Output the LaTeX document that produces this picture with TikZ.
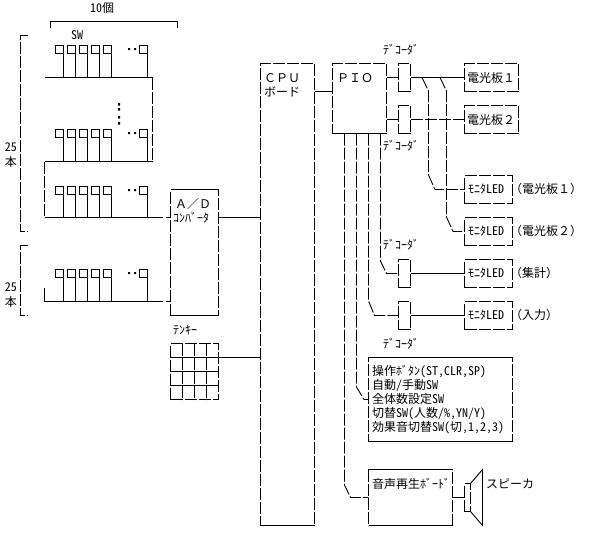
\documentclass[tikz,border=0pt]{standalone}
\usepackage{fontspec}
\setmainfont{Noto Sans CJK JP}
\newfontfamily\hwfont[RawFeature=+hwid]{Noto Sans CJK JP}
\tikzset{
  txt/.style={inner sep=0pt, font=\fontsize{12}{12}\selectfont},
  small/.style={inner sep=0pt, font=\hwfont\fontsize{12}{12}\selectfont},
  swbox/.style={draw, line width=0.9pt, minimum width=8pt, minimum height=8pt, inner sep=0pt, outer sep=0pt, fill=white},
  dashbox/.style={draw, line width=0.9pt, dash pattern=on 12pt off 2pt, inner sep=0pt, outer sep=0pt},
  lbox/.style={dashbox, minimum width=48pt, minimum height=28pt},
  lline/.style={line width=0.9pt},
  dline/.style={line width=0.9pt, dash pattern=on 12pt off 2pt}
}
\begin{document}
\begin{tikzpicture}[x=1pt, y=-1pt]
\useasboundingbox (0,0) rectangle (596,544);
% brackets
\draw[lline] (50.5,28) -- (50.5,21.5) -- (177,21.5) -- (177,28);
\node[small] (ten) at (102,8) {10個};
\draw[dline] (28,35.5) -- (20.5,35.5) -- (20.5,231.5) -- (28,231.5);
\draw[dline] (28,245.5) -- (20.5,245.5) -- (20.5,315.5) -- (28,315.5);
\node[small] (n25a) at (11,147) {25};
\node[small] (hon1) at (11,162) {本};
\node[small] (n25b) at (11,287) {25};
\node[small] (hon2) at (11,302) {本};
\node[small] (swname) at (77,35) {SW};
% switches
\foreach \r/\ytop/\ybus in {a/49/77.5, b/133/161.5, c/190/217.5, d/273/301.5} {
  \coordinate (bus\r) at (44.5,\ybus);
  \foreach \i/\x in {1/59,2/71,3/83,4/95,5/107,6/143} {
    \node[swbox] (sw\r\i) at (\x,\ytop) {};
    \draw[lline] (sw\r\i.south east) -- (sw\r\i.south east |- bus\r);
  }
  \fill (128,\ytop-0.8) rectangle +(2,2) (134,\ytop-0.8) rectangle +(2,2);
}
\fill (118,103) rectangle +(2,2.5) (118,108) rectangle +(2,2.5) (118,116) rectangle +(2,2.5) (118,122) rectangle +(2,2.5);
% A/D, tenkey, CPU
\node[dashbox, minimum width=48pt, minimum height=126pt] (ad) at (194.5,252.5) {};
\node[txt] (adtxt) at (193,204) {Ａ／Ｄ};
\node[small] (adtxt2) at (191,218) {ｺﾝﾊﾞｰﾀ};
\node[small] (tenkey) at (185,330) {ﾃﾝｷｰ};
\node[dashbox, minimum width=54pt, minimum height=462pt] (cpu) at (287.5,294.5) {};
\node[txt] (cputxt) at (282,78) {ＣＰＵ};
\node[txt] (cputxt2) at (282,92) {ボード};
\node[dashbox, minimum width=48pt, minimum height=56pt] (key) at (194.5,371.5) {};
\foreach \x in {182.5,194.5,206.5} \draw[dline] (key.north -| \x,0) -- (key.south -| \x,0);
\foreach \y in {357.5,371.5,385.5} \draw[lline] (key.west |- 0,\y) -- (key.east |- 0,\y);
% buses
\draw[lline] (busa) -- (busa -| 152.5,0);
\draw[dline] (busa -| 152.5,0) -- (busb -| 152.5,0);
\draw[lline] (busb) -- (busb -| 152.5,0);
\draw[dline] (busb) -- (busc);
\draw[lline] (busc) -- (busc -| 163,0) (busc -| 166,0) -- (busc -| ad.west);
\draw[lline] (busd) -- (busd -| 163,0) (busd -| 166,0) -- (busd -| ad.west);
\draw[lline] (44.5,288) -- (busd);
\draw[lline] (ad.east |- busc) -- (cpu.west |- busc);
\draw[lline] (key.east |- 0,357.5) -- (cpu.west |- 0,357.5);
% PIO side
\node[dashbox, minimum width=54pt, minimum height=70pt] (pio) at (359.5,98.5) {};
\node[txt] (piotxt) at (355,78) {ＰＩＯ};
\draw[lline] (cpu.east |- 0,91.5) -- (pio.west |- 0,91.5);
\node[dashbox, minimum width=12pt, minimum height=28pt] (dec1) at (404.5,77.5) {};
\node[dashbox, minimum width=12pt, minimum height=28pt] (dec2) at (404.5,119.5) {};
\node[dashbox, minimum width=12pt, minimum height=28pt] (dec3) at (404.5,273.5) {};
\node[dashbox, minimum width=12pt, minimum height=28pt] (dec4) at (404.5,315.5) {};
\node[small] (dectxt1) at (401,50) {ﾃﾞｺｰﾀﾞ};
\node[small] (dectxt2) at (401,146) {ﾃﾞｺｰﾀﾞ};
\node[small] (dectxt3) at (401,245) {ﾃﾞｺｰﾀﾞ};
\node[small] (dectxt4) at (401,344) {ﾃﾞｺｰﾀﾞ};
\node[dashbox, minimum width=54pt, minimum height=28pt] (pan1) at (491.5,77.5) {};
\node[dashbox, minimum width=54pt, minimum height=28pt] (pan2) at (491.5,119.5) {};
\node[txt] (pantxt1) at (491,78) {電光板１};
\node[txt] (pantxt2) at (491,120) {電光板２};
\node[lbox] (led1) at (488.5,189.5) {};
\node[lbox] (led2) at (488.5,231.5) {};
\node[lbox] (led3) at (488.5,273.5) {};
\node[lbox] (led4) at (488.5,315.5) {};
\foreach \n in {1,2,3,4} \node[small] (ledtxt\n) at ([xshift=-2.5pt]led\n) {ﾓﾆﾀLED};
\node[txt, anchor=west] (ledlab1) at (510,189) {（電光板１）};
\node[txt, anchor=west] (ledlab2) at (510,231) {（電光板２）};
\node[txt, anchor=west] (ledlab3) at (510,273) {（集計）};
\node[txt, anchor=west] (ledlab4) at (510,315) {（入力）};
\draw[lline] (pio.east |- dec1.west) -- (dec1.west);
\draw[dline] (pio.east |- dec2.west) -- (dec2.west);
\draw[lline] (dec1.east) -- (pan1.west);
\draw[dline] (dec2.east) -- (pan2.west);
\draw[lline] (dec3.east) -- (led3.west);
\draw[lline] (dec4.east) -- (led4.west);
% branches
\draw[dline] (422,77.5) -- (428.5,91) -- (428.5,175) -- (435,189.5) -- (led1.west);
\draw[dline] (440,77.5) -- (446.5,91) -- (446.5,217) -- (453,231.5) -- (led2.west);
\draw[dline] (pio.south -| 380.5,0) -- (380.5,261) -- (386.5,273.5) -- (dec3.west);
\draw[dline] (pio.south -| 368.5,0) -- (368.5,301) -- (374.5,315.5) -- (dec4.west);
% lower boxes
\node[dashbox, minimum width=144pt, minimum height=84pt] (ops) at (440.5,399.5) {};
\node[dashbox, minimum width=84pt, minimum height=56pt] (snd) at (410.5,497.5) {};
\foreach \n in {ad,snd,ops,cpu,pio} \draw[lline] (\n.south west) -- (\n.south east);
\foreach \n in {ad,snd,ops} \draw[lline] (\n.north west) -- (\n.north east);
\draw[dline] (pio.south -| 356.5,0) -- (356.5,387) -- (364,399.5) -- (ops.west);
\draw[dline] (pio.south -| 344.5,0) -- (344.5,485) -- (350.5,497.5) -- (snd.west);
\node[small, anchor=west, align=left, font=\hwfont\fontsize{12}{14}\selectfont] (opstxt) at (372,399.5) {操作ﾎﾞﾀﾝ(ST,CLR,SP)\\自動/手動SW\\全体数設定SW\\切替SW(人数/\%,YN/Y)\\効果音切替SW(切,1,2,3)};
\node[small, anchor=west] (sndtxt) at (372,484) {音声再生ﾎﾞｰﾄﾞ};
% speaker
\node[dashbox, minimum width=6pt, minimum height=28pt] (spk) at (467.5,497.5) {};
\draw[dline] (snd.east) -- (spk.west);
\draw[lline] (spk.north east) -- (482.5,469.5) -- (482.5,525.5) -- (spk.south east);
\node[txt, anchor=west] (spktxt) at (486,484) {スピーカ};
\end{tikzpicture}
\end{document}
